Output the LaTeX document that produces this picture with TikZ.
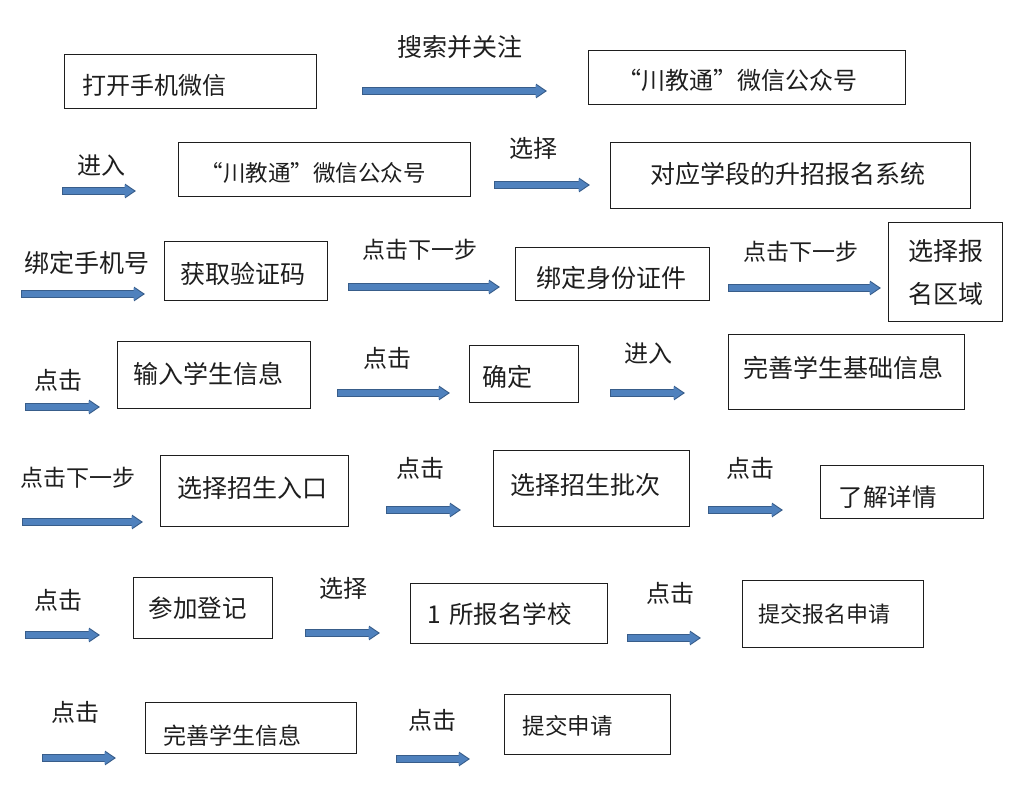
\documentclass[tikz,border=0pt]{standalone}
\usepackage{fontspec}
\setmainfont{Noto Sans CJK SC}
\usetikzlibrary{arrows.meta}
\definecolor{ink}{HTML}{1E1E1E}
\definecolor{boxline}{HTML}{1E1E1E}
\definecolor{arrowfill}{HTML}{4F81BD}
\definecolor{arrowedge}{HTML}{385D8A}
\newcommand\T[2][0pt]{\raisebox{-#1}[0.88em][0.12em]{#2}}
\newcommand\fsz[1]{\fontsize{#1}{#1}\selectfont}
\newcommand\flow[2]{\draw[flowout] (#1) -- (#2); \draw[flowin] (#1) -- (#2);}
\tikzset{
  box/.style={draw=boxline, line width=1.2pt, anchor=north west, align=left, inner ysep=0pt, text=ink, font=\fsz{24}},
  lbl/.style={inner sep=0pt, text=ink, font=\fsz{24}},
  flowout/.style={draw=arrowedge, line width=8.5pt, -{Triangle[length=11pt,width=14pt]}},
  flowin/.style={draw=arrowfill, line width=6.5pt, shorten >=1.9pt, shorten <=1pt, -{Triangle[length=9.4pt,width=12pt]}},
}
\begin{document}
\begin{tikzpicture}[x=1pt,y=-1pt]
\useasboundingbox[fill=white] (0,0) rectangle (1024,798);

% ---------- row 1
\node[box, minimum height=54pt, text width=216pt, inner xsep=18pt] (b1) at (64,54) {\T[4pt]{打开手机微信}};
\node[lbl, font=\fsz{25}] (l1) at (460,47) {\T{搜索并关注}};
\coordinate (s1) at (362,91); \coordinate (e1) at (547,91); \flow{s1}{e1}
\node[box, minimum height=54pt, text width=259pt, inner xsep=29pt] (b2) at (588,50) {\T[3pt]{“川教通”微信公众号}};

% ---------- row 2
\node[lbl] (l2) at (101,165) {\T{进入}};
\coordinate (s2) at (62,191); \coordinate (e2) at (136,191); \flow{s2}{e2}
\node[box, font=\fsz{22.5}, minimum height=54pt, text width=248pt, inner xsep=22pt] (b3) at (178,142) {\T[3pt]{“川教通”微信公众号}};
\node[lbl] (l3) at (533,148) {\T{选择}};
\coordinate (s3) at (494,185); \coordinate (e3) at (590,185); \flow{s3}{e3}
\node[box, font=\fsz{25}, minimum height=66pt, text width=280pt, inner xsep=40pt] (b4) at (610,142) {\T[-2pt]{对应学段的升招报名系统}};

% ---------- row 3
\node[lbl, font=\fsz{25}] (l4) at (87,263) {\T{绑定手机号}};
\coordinate (s4) at (21,294); \coordinate (e4) at (145,294); \flow{s4}{e4}
\node[box, font=\fsz{25}, minimum height=59pt, text width=131pt, inner xsep=16pt] (b5) at (164,241) {\T[2.5pt]{获取验证码}};
\node[lbl, font=\fsz{23}] (l5) at (420,250) {\T{点击下一步}};
\coordinate (s5) at (348,287); \coordinate (e5) at (500,287); \flow{s5}{e5}
\node[box, font=\fsz{25}, minimum height=53pt, text width=152pt, inner xsep=21pt] (b6) at (515,247) {\T[3.5pt]{绑定身份证件}};
\node[lbl, font=\fsz{23}] (l6) at (801,252) {\T{点击下一步}};
\coordinate (s6) at (728,288); \coordinate (e6) at (881,288); \flow{s6}{e6}
\node[box, font=\fontsize{25}{43}\selectfont, align=center, minimum height=99pt, text width=114pt, inner xsep=0pt] (b7) at (888,222) {选择报\\名区域};

% ---------- row 4
\node[lbl] (l7) at (58,380) {\T{点击}};
\coordinate (s7) at (25,407); \coordinate (e7) at (100,407); \flow{s7}{e7}
\node[box, font=\fsz{25}, minimum height=67pt, text width=161pt, inner xsep=16pt] (b8) at (117,341) {\T[-1.5pt]{输入学生信息}};
\node[lbl] (l8) at (387,358) {\T{点击}};
\coordinate (s8) at (337,393); \coordinate (e8) at (450,393); \flow{s8}{e8}
\node[box, font=\fsz{25}, minimum height=57pt, text width=83pt, inner xsep=13pt] (b9) at (469,345) {\T[2.5pt]{确定}};
\node[lbl] (l9) at (648,353) {\T{进入}};
\coordinate (s9) at (610,393); \coordinate (e9) at (685,393); \flow{s9}{e9}
\node[box, font=\fsz{25}, minimum height=75pt, text width=206pt, inner xsep=15pt] (b10) at (728,334) {\T[-4.5pt]{完善学生基础信息}};

% ---------- row 5
\node[lbl, font=\fsz{23}] (l10) at (78,478) {\T{点击下一步}};
\coordinate (s10) at (22,522); \coordinate (e10) at (143,522); \flow{s10}{e10}
\node[box, font=\fsz{25}, minimum height=71pt, text width=154pt, inner xsep=17pt] (b11) at (160,455) {\T[-3.5pt]{选择招生入口}};
\node[lbl] (l11) at (420,468) {\T{点击}};
\coordinate (s11) at (386,510); \coordinate (e11) at (461,510); \flow{s11}{e11}
\node[box, font=\fsz{25}, minimum height=76pt, text width=162pt, inner xsep=17pt] (b12) at (493,450) {\T[-4pt]{选择招生批次}};
\node[lbl] (l12) at (750,468) {\T{点击}};
\coordinate (s12) at (708,510); \coordinate (e12) at (783,510); \flow{s12}{e12}
\node[box, font=\fsz{24.5}, minimum height=53pt, text width=127pt, inner xsep=18pt] (b13) at (820,465) {\T[5.5pt]{了解详情}};

% ---------- row 6
\node[lbl] (l13) at (58,600) {\T{点击}};
\coordinate (s13) at (25,635); \coordinate (e13) at (100,635); \flow{s13}{e13}
\node[box, font=\fsz{24.5}, minimum height=61pt, text width=109pt, inner xsep=15pt] (b14) at (133,577) {\T{参加登记}};
\node[lbl] (l14) at (343,588) {\T{选择}};
\coordinate (s14) at (305,633); \coordinate (e14) at (380,633); \flow{s14}{e14}
\node[box, font=\fsz{24.5}, minimum height=60pt, text width=163pt, inner xsep=17pt] (b15) at (410,583) {\T[1pt]{1 所报名学校}};
\node[lbl] (l15) at (670,593) {\T{点击}};
\coordinate (s15) at (627,638); \coordinate (e15) at (701,638); \flow{s15}{e15}
\node[box, font=\fsz{22}, minimum height=67pt, text width=149pt, inner xsep=16pt] (b16) at (742,580) {\T{提交报名申请}};

% ---------- row 7
\node[lbl] (l16) at (75,712) {\T{点击}};
\coordinate (s16) at (42,758); \coordinate (e16) at (116,758); \flow{s16}{e16}
\node[box, font=\fsz{23}, minimum height=51pt, text width=175pt, inner xsep=18pt] (b17) at (145,702) {\T[7.5pt]{完善学生信息}};
\node[lbl] (l17) at (432,720) {\T{点击}};
\coordinate (s17) at (396,759); \coordinate (e17) at (470,759); \flow{s17}{e17}
\node[box, font=\fsz{22.5}, minimum height=60pt, text width=130pt, inner xsep=18pt] (b18) at (504,694) {\T[1pt]{提交申请}};
\end{tikzpicture}
\end{document}
